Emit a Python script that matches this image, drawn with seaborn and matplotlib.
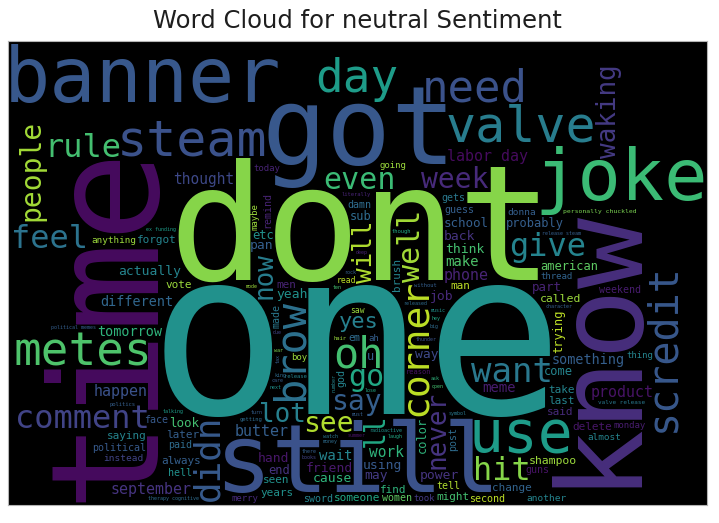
import numpy as np
import matplotlib
matplotlib.use("Agg")
import matplotlib.pyplot as plt
import seaborn as sns
from matplotlib.textpath import TextPath
from matplotlib.font_manager import FontProperties
from matplotlib.transforms import Affine2D

# words and their relative weights (roughly the font size each got in the cloud)
words = [
    "one", "dont", "time", "know", "got", "still", "banner", "joke", "use", "steam",
    "valve", "metes", "day", "need", "oh", "scredit", "brow", "corner", "didn", "want",
    "comment", "hit", "give", "feel", "rule", "go", "even", "well", "week", "say",
    "see", "people", "ll", "lot", "never", "waking", "will", "now", "yes", "september",
    "happen", "labor day", "product", "butter", "phone", "work", "thought", "meme", "wait", "make",
    "something", "tomorrow", "different", "friend", "using", "way", "yeah", "hand", "think", "actually",
    "power", "back", "job", "pan", "may", "cause", "look", "part", "school", "color",
    "trying", "end", "etc", "american", "probably", "sub", "u", "come", "called", "shampoo",
    "brush", "vote", "later", "someone", "always", "find", "years", "take", "change", "might",
    "delete", "forgot", "last", "men", "man", "seen", "said", "saying", "post", "made",
    "remind", "god", "tell", "damn", "sword", "paid", "political", "guess", "women", "face",
    "second", "weekend", "gets", "hell", "guns", "em", "instead", "another", "donna", "anything",
    "almost", "maybe", "thread", "took", "thing", "going", "boy", "monday", "today", "ah",
    "merry", "saw", "read", "reason", "personally chuckled", "valve release", "literally", "politics", "getting", "release",
    "hair", "without", "though", "therapy cognitive", "release steam", "political memes", "radioactive", "thunder", "character", "released",
    "ex funding", "lose", "music", "symbol", "king", "summer", "must", "watch", "open", "war",
    "big", "next", "care", "talking", "due", "laugh", "ask", "money", "rock", "turn",
    "mode", "there", "books", "deep", "number", "tax", "hey", "ten",
]
weights = [
    230, 160, 150, 118, 108, 95, 95, 72, 58, 50,
    50, 46, 46, 44, 42, 40, 42, 38, 36, 34,
    32, 32, 32, 32, 32, 30, 30, 30, 28, 28,
    28, 28, 28, 26, 26, 26, 26, 26, 22, 15,
    15, 15, 15, 15, 15, 14.5, 14.5, 14, 14, 14,
    13.5, 13.5, 13.5, 13, 13, 13, 13, 13, 13, 13,
    13, 13, 13, 13, 13, 13, 12.5, 12.5, 12.5, 12,
    12, 12, 12, 12, 12, 12, 12, 12, 11.5, 11.5,
    11, 11, 11, 11, 11, 11, 11, 11, 11, 11,
    11, 11, 11, 11, 11, 11, 11, 11, 10, 10,
    10, 10, 10, 10, 10, 10, 10, 10, 10, 10,
    10, 10, 10, 10, 10, 10, 9.5, 9.5, 9.5, 9.4,
    9.3, 9, 9, 9, 9, 9, 9, 9, 9, 9,
    9, 8, 8, 7, 6.5, 6, 5.5, 5.5, 5.5, 5.5,
    5.5, 5.5, 5.5, 5, 5, 5, 5, 5, 5, 5,
    5, 5, 5, 5, 5, 5, 5, 5, 5, 5,
    5, 5, 5, 5, 5, 5, 5, 5, 5, 5,
    5, 5, 5, 5, 5, 5, 5, 5,
]

# styling: which words stand upright and where each sits on the viridis map
vertical = {
    "time", "know", "scredit", "brow", "corner", "didn", "well", "people", "ll",
    "never", "waking", "will", "now", "color", "trying", "brush", "post", "made",
    "remind", "god", "maybe", "number", "tax",
}
shade = {
    "one": .5, "dont": .82, "time": .03, "know": .13, "got": .27, "still": .25,
    "banner": .27, "joke": .68, "use": .55, "steam": .25, "valve": .42, "metes": .72,
    "day": .55, "need": .25, "oh": .7, "scredit": .27, "brow": .37, "corner": .9,
    "didn": .28, "want": .4, "comment": .2, "hit": .82, "give": .45, "feel": .38,
    "rule": .7, "go": .6, "even": .68, "well": .86, "week": .12, "say": .3,
    "see": .88, "people": .86, "ll": .6, "lot": .43, "never": .15, "waking": .17,
    "will": .88, "now": .42, "yes": .43, "september": .15, "happen": .25,
    "labor day": .03, "product": .05, "butter": .3, "phone": .1, "work": .65,
    "thought": .22, "meme": .08, "wait": .45, "make": .72, "something": .3,
    "tomorrow": .65, "different": .33, "friend": .07, "using": .28, "way": .22,
    "yeah": .5, "hand": .06, "think": .7, "actually": .45, "power": .15, "back": .15,
    "job": .12, "pan": .3, "may": .17, "cause": .65, "look": .7, "part": .1,
    "school": .3, "color": .65, "trying": .9, "end": .15, "etc": .5, "american": .75,
    "probably": .3, "sub": .35, "u": .3, "come": .45, "called": .85, "shampoo": .85,
    "brush": .45, "vote": .85, "later": .3, "someone": .6, "always": .3, "find": .65,
    "years": .5, "take": .45, "change": .32, "might": .7, "delete": .06, "forgot": .45,
    "last": .45, "men": .1, "man": .9, "seen": .5, "said": .12, "saying": .45,
    "post": .35, "made": .4, "remind": .1, "god": .45, "tell": .88, "damn": .35,
    "sword": .45, "paid": .35, "political": .28, "guess": .3, "women": .75, "face": .28,
    "second": .9, "weekend": .08, "gets": .4, "hell": .5, "guns": .05, "em": .35,
    "instead": .2, "another": .45, "donna": .3, "anything": .85, "almost": .45,
    "maybe": .85, "thread": .32, "took": .17, "thing": .45, "going": .85, "boy": .85,
    "monday": .08, "today": .1, "ah": .3, "merry": .12, "saw": .85, "read": .9,
    "reason": .05, "personally chuckled": .8, "valve release": .4, "literally": .1,
    "politics": .3, "getting": .35, "release": .45, "hair": .85, "without": .3,
    "though": .6, "therapy cognitive": .35, "release steam": .3, "political memes": .3,
    "radioactive": .5, "thunder": .25, "character": .3, "released": .35,
    "ex funding": .55, "lose": .6, "music": .5, "symbol": .4, "king": .35,
    "summer": .05, "must": .3, "watch": .4, "open": .7, "war": .8, "big": .35,
    "next": .5, "care": .3, "talking": .55, "due": .2, "laugh": .6, "ask": .65,
    "money": .35, "rock": .3, "turn": .3, "mode": .85, "there": .3, "books": .2,
    "deep": .1, "number": .45, "tax": .3, "hey": .6, "ten": .7,
}

sns.set_style("white")
plt.rcParams["font.family"] = ["DejaVu Sans"]

W, H = 699, 464
pad = 2
focus_y = 0.33  # layout grows from a point below the middle
cloud_font = FontProperties(family="DejaVu Sans Mono")
cmap = sns.color_palette("viridis", as_cmap=True)


def word_mask(word, size, upright):
    path = TextPath((0, 0), word, size=size, prop=cloud_font)
    bearing = path.get_extents().x0
    if upright:
        path = path.transformed(Affine2D().rotate_deg(90))
    ext = path.get_extents()
    x0, y0 = int(np.floor(ext.x0)), int(np.floor(ext.y0))
    x1, y1 = int(np.ceil(ext.x1)), int(np.ceil(ext.y1))
    gx, gy = np.meshgrid(np.arange(x0, x1) + 0.5, np.arange(y0, y1) + 0.5)
    inside = path.contains_points(np.column_stack([gx.ravel(), gy.ravel()]))
    return inside.reshape(gx.shape), x0, y0, bearing


# greedy layout: biggest words first, each at the free spot nearest the focus
occupied = np.zeros((H, W), dtype=bool)
placed = []
order = sorted(range(len(words)), key=lambda i: -weights[i])
for i in order:
    word = words[i]
    size = weights[i]
    upright = word in vertical
    while size >= 4:
        mask, x0, y0, bearing = word_mask(word, size, upright)
        bh, bw = mask.shape[0] + 2 * pad, mask.shape[1] + 2 * pad
        if bh < H and bw < W:
            integral = np.zeros((H + 1, W + 1))
            integral[1:, 1:] = occupied.cumsum(0).cumsum(1)
            sums = (integral[bh:, bw:] - integral[:-bh, bw:]
                    - integral[bh:, :-bw] + integral[:-bh, :-bw])
            rows, cols = np.nonzero(sums == 0)
            if rows.size:
                dy = (rows + bh / 2 - H * focus_y) / H
                dx = (cols + bw / 2 - W / 2) / W
                k = np.argmin(dx ** 2 + dy ** 2 - 1e-9 * rows)
                r, c = rows[k] + pad, cols[k] + pad
                occupied[r:r + mask.shape[0], c:c + mask.shape[1]] |= mask
                x, y = c - x0, r - y0
                if upright:
                    # Agg shifts rotated text by the first glyph's bearing
                    x, y = x - bearing, y + bearing
                placed.append((word, size, upright, x, y))
                break
        size *= 0.9

fig = plt.figure(figsize=(7.19, 5.23), dpi=100)
ax = fig.add_axes([8 / 719, 18 / 523, W / 719, H / 523])
ax.set_facecolor("black")
ax.set_xlim(0, W)
ax.set_ylim(0, H)
ax.set_xticks([])
ax.set_yticks([])
for spine in ax.spines.values():
    spine.set_color("#b4b4b4")
    spine.set_linewidth(0.8)

for word, size, upright, x, y in placed:
    ax.text(x, y, word, fontsize=size * 72 / fig.dpi, family="DejaVu Sans Mono",
            color=cmap(shade.get(word, 0.5)), ha="left", va="baseline",
            rotation=90 if upright else 0, rotation_mode="anchor")

ax.set_title("Word Cloud for neutral Sentiment", fontsize=17.5, pad=9, color="#1e1e1e")
fig.savefig("out.png", dpi=100, facecolor="white")
